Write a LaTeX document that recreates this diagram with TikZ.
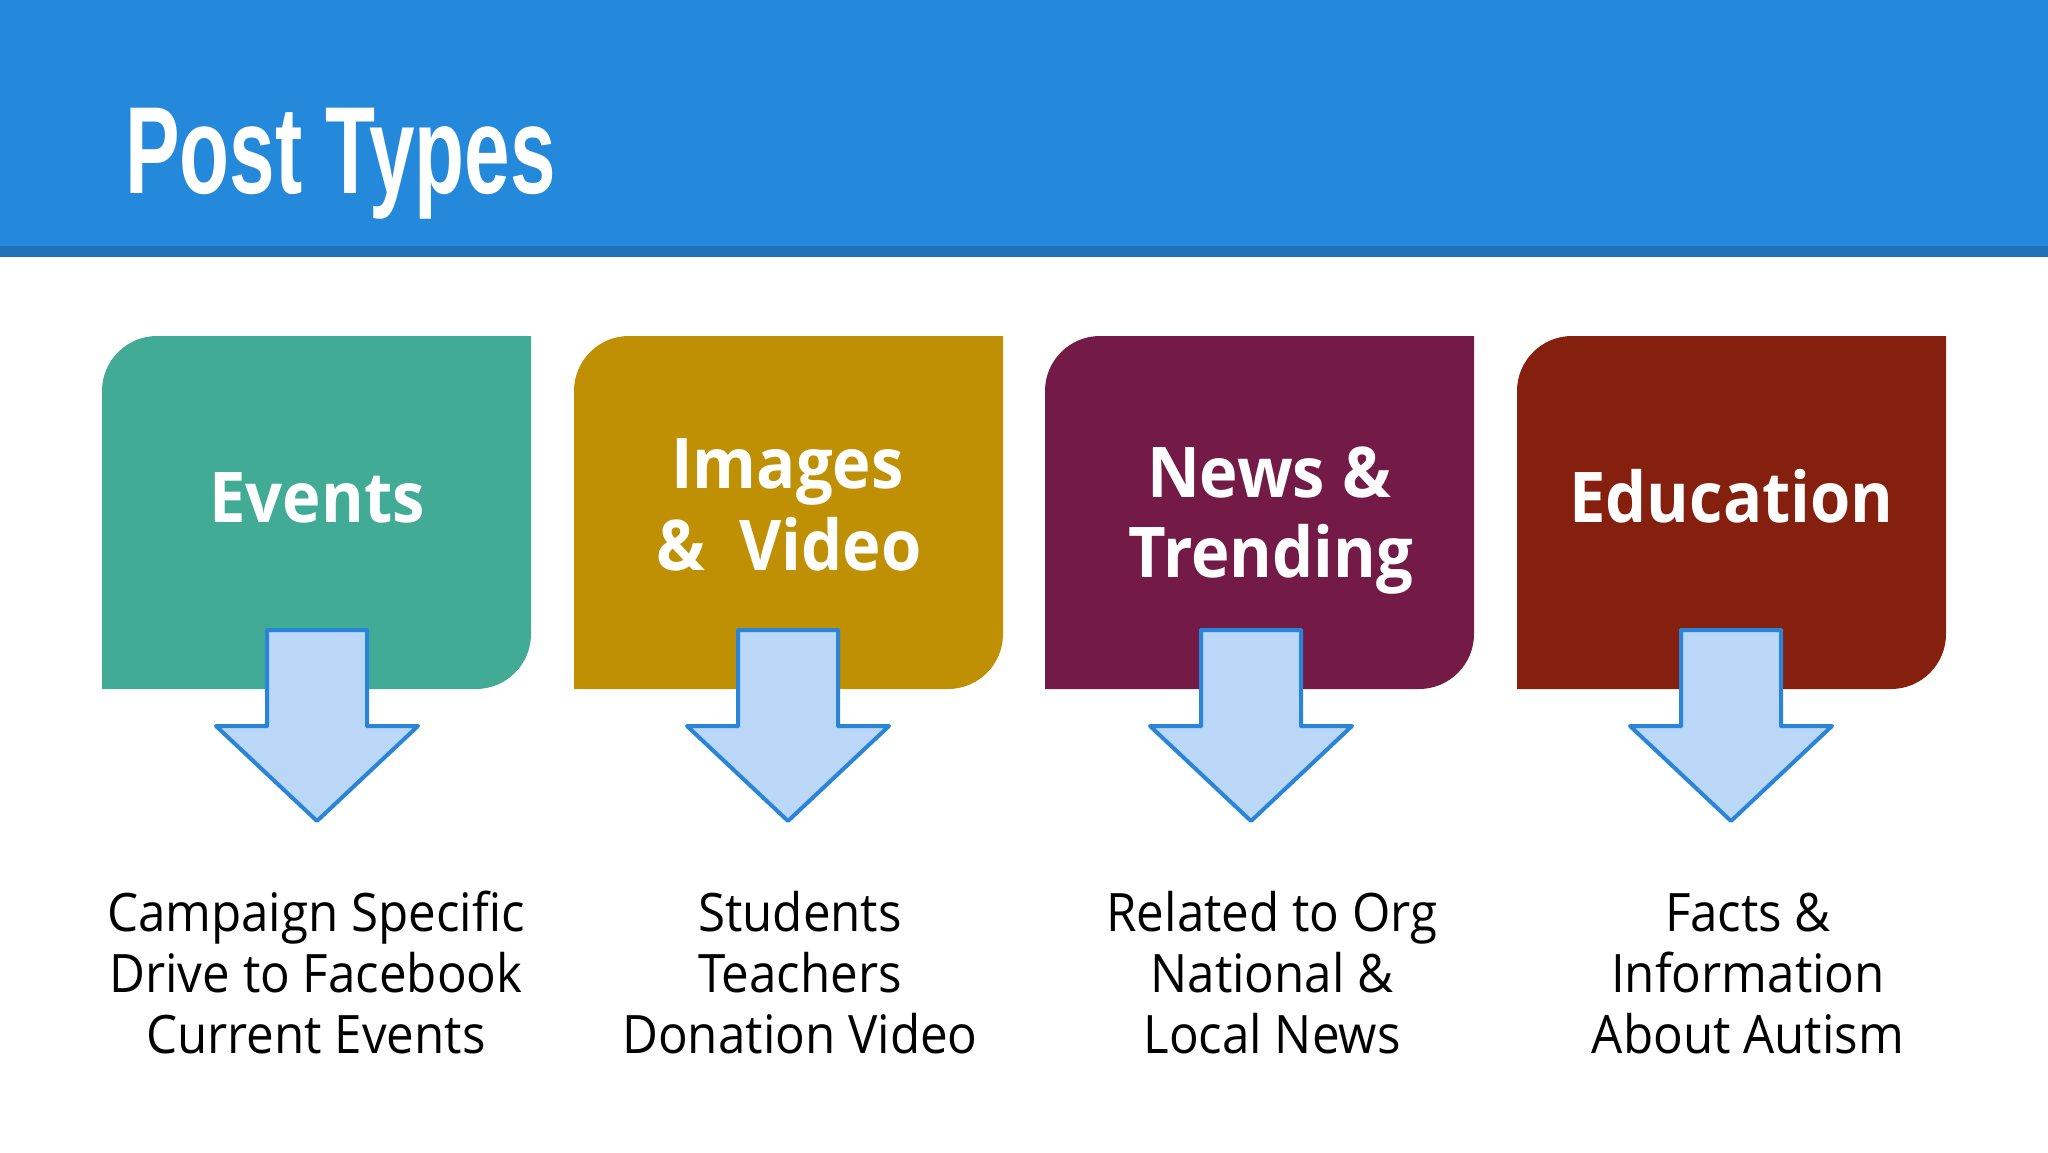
\documentclass[tikz,border=0pt]{standalone}
\usepackage{fontspec}
\setmainfont{Open Sans}
\newfontfamily\titlefont{Liberation Sans}
\definecolor{hdr}{HTML}{2488DB}
\definecolor{hdrdark}{HTML}{2170BA}
\definecolor{cteal}{HTML}{42AB95}
\definecolor{cgold}{HTML}{BF9004}
\definecolor{cplum}{HTML}{741A47}
\definecolor{cred}{HTML}{86200E}
\definecolor{arrfill}{HTML}{BAD7F8}
\definecolor{arrline}{HTML}{2A84D8}
\newcommand\narrowtxt[1]{\scalebox{0.93}[1]{#1}}
\tikzset{
  arr/.style={draw=arrline, fill=arrfill, line width=4pt, line join=round},
  boxtext/.style={anchor=base, inner sep=0pt, text=white, font=\bfseries\fontsize{70}{82}\selectfont},
  desc/.style={anchor=base, inner sep=0pt, text=black, font=\fontsize{53}{62}\selectfont}
}
\newcommand\postbox[2]{%
  \fill[#2] (#1,689) -- (#1,391) arc[start angle=180,end angle=270,radius=55]
    -- ({#1+429},336) -- ({#1+429},634) arc[start angle=0,end angle=90,radius=55] -- cycle;}
\newcommand\bigdownarrow[1]{%
  \draw[arr] ({#1-50},630) -- ({#1+50},630) -- ({#1+50},726) -- ({#1+101},726)
    -- (#1,821) -- ({#1-101},726) -- ({#1-50},726) -- cycle;}
\begin{document}
\begin{tikzpicture}[x=1pt,y=-1pt]
\useasboundingbox (0,0) rectangle (2048,1152);
\fill[white] (0,0) rectangle (2048,1152);
\fill[hdr] (0,0) rectangle (2048,246);
\fill[hdrdark] (0,246) rectangle (2048,257);
\node[anchor=base west, inner sep=0pt, text=white] (title) at (125,193)
  {\scalebox{0.66}[1]{\titlefont\bfseries\fontsize{124}{124}\selectfont Post Types}};

\postbox{102}{cteal}
\postbox{574}{cgold}
\postbox{1045}{cplum}
\postbox{1517}{cred}

\node[boxtext] (t1) at (317,522) {\narrowtxt{Events}};
\node[boxtext] (t2a) at (787.5,488) {\narrowtxt{Images}};
\node[boxtext] (t2b) at (789,570) {\narrowtxt{\&\ \ Video}};
\node[boxtext] (t3a) at (1269,497) {\narrowtxt{News \&}};
\node[boxtext] (t3b) at (1271,577) {\narrowtxt{Trending}};
\node[boxtext] (t4) at (1731.5,522) {\narrowtxt{Education}};

\bigdownarrow{317}
\bigdownarrow{788}
\bigdownarrow{1251}
\bigdownarrow{1731}

\node[desc] (d1a) at (316,931) {\narrowtxt{Campaign Specific}};
\node[desc] (d1b) at (316,992) {\narrowtxt{Drive to Facebook}};
\node[desc] (d1c) at (316,1053) {\narrowtxt{Current Events}};
\node[desc] (d2a) at (800,931) {\narrowtxt{Students}};
\node[desc] (d2b) at (800,992) {\narrowtxt{Teachers}};
\node[desc] (d2c) at (800,1053) {\narrowtxt{Donation Video}};
\node[desc] (d3a) at (1272,931) {\narrowtxt{Related to Org}};
\node[desc] (d3b) at (1272,992) {\narrowtxt{National \&}};
\node[desc] (d3c) at (1272,1053) {\narrowtxt{Local News}};
\node[desc] (d4a) at (1748,931) {\narrowtxt{Facts \&}};
\node[desc] (d4b) at (1748,992) {\narrowtxt{Information}};
\node[desc] (d4c) at (1748,1053) {\narrowtxt{About Autism}};
\end{tikzpicture}
\end{document}
